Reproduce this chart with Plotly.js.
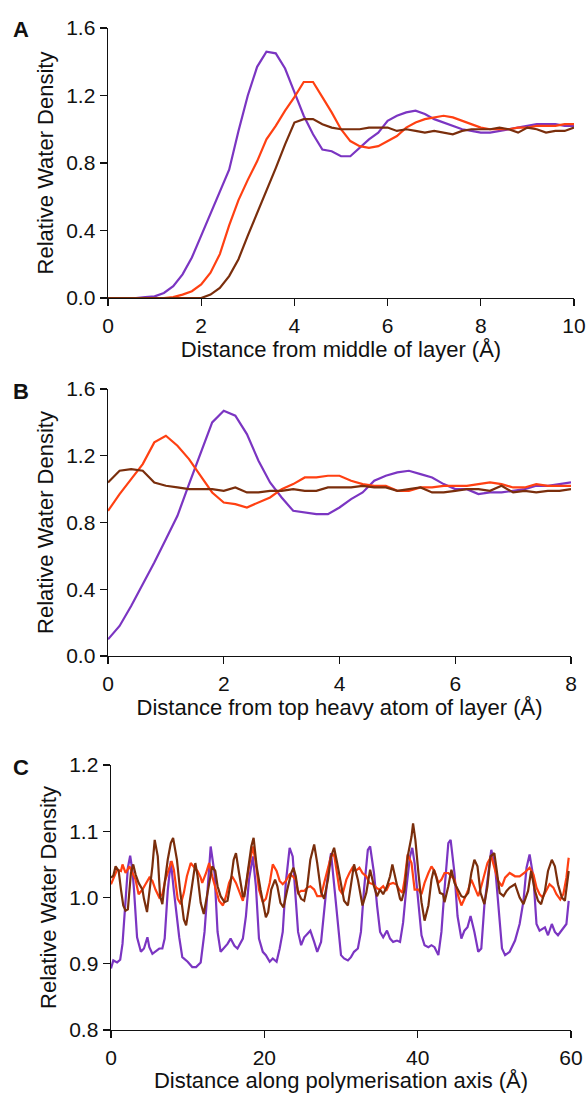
<!DOCTYPE html>
<html>
<head>
<meta charset="utf-8">
<script src="https://cdn.plot.ly/plotly-3.0.1.min.js"></script>
<style>html,body{margin:0;padding:0;background:#fff;}</style>
</head>
<body>
<div id="chart" style="width:588px;height:1093px;"></div>
<script>
// ---------- Panel A: distance from middle of layer ----------
const xA = [0,0.2,0.4,0.6,0.8,1.0,1.2,1.4,1.6,1.8,2.0,2.2,2.4,2.6,2.8,3.0,3.2,3.4,3.6,3.8,4.0,4.2,4.4,4.6,4.8,5.0,5.2,5.4,5.6,5.8,6.0,6.2,6.4,6.6,6.8,7.0,7.2,7.4,7.6,7.8,8.0,8.2,8.4,8.6,8.8,9.0,9.2,9.4,9.6,9.8,10.0];
const purpleA = [0,0,0,0,0.005,0.01,0.03,0.07,0.14,0.24,0.37,0.50,0.64,0.76,0.99,1.20,1.37,1.46,1.45,1.36,1.22,1.08,0.97,0.88,0.87,0.84,0.84,0.89,0.94,0.98,1.05,1.08,1.10,1.11,1.09,1.06,1.04,1.02,1.00,0.99,0.98,0.98,0.99,1.00,1.01,1.02,1.03,1.03,1.03,1.02,1.02];
const orangeA = [0,0,0,0,0,0,0,0.005,0.02,0.04,0.08,0.15,0.26,0.43,0.58,0.70,0.81,0.94,1.02,1.11,1.19,1.28,1.28,1.19,1.10,1.00,0.93,0.90,0.89,0.90,0.93,0.96,1.01,1.04,1.06,1.07,1.08,1.07,1.05,1.03,1.01,1.00,1.00,1.00,1.01,1.01,1.02,1.02,1.02,1.03,1.03];
const brownA = [0,0,0,0,0,0,0,0,0,0,0,0.02,0.06,0.13,0.23,0.37,0.50,0.64,0.77,0.91,1.04,1.06,1.06,1.03,1.01,1.00,1.00,1.00,1.01,1.01,1.01,0.99,1.00,0.99,0.98,0.99,0.98,0.97,0.99,1.00,1.00,1.00,1.01,1.00,0.98,1.01,1.00,0.98,0.99,0.99,1.01];

// ---------- Panel B: distance from top heavy atom of layer ----------
const xB = [0,0.2,0.4,0.6,0.8,1.0,1.2,1.4,1.6,1.8,2.0,2.2,2.4,2.6,2.8,3.0,3.2,3.4,3.6,3.8,4.0,4.2,4.4,4.6,4.8,5.0,5.2,5.4,5.6,5.8,6.0,6.2,6.4,6.6,6.8,7.0,7.2,7.4,7.6,7.8,8.0];
const purpleB = [0.10,0.18,0.30,0.43,0.56,0.70,0.84,1.03,1.22,1.40,1.47,1.44,1.33,1.17,1.04,0.95,0.87,0.86,0.85,0.85,0.89,0.94,0.98,1.05,1.08,1.10,1.11,1.09,1.07,1.03,1.00,1.00,0.97,0.98,0.98,0.99,1.00,1.02,1.02,1.03,1.04];
const orangeB = [0.87,0.97,1.06,1.15,1.28,1.32,1.26,1.18,1.08,0.98,0.92,0.91,0.89,0.92,0.95,1.00,1.03,1.07,1.07,1.08,1.08,1.05,1.03,1.02,1.02,0.99,0.99,1.01,1.01,1.02,1.02,1.02,1.03,1.04,1.03,1.01,1.01,1.03,1.02,1.02,1.02];
const brownB = [1.04,1.11,1.12,1.11,1.04,1.02,1.01,1.00,1.00,1.00,0.99,1.01,0.98,0.98,0.99,0.99,1.00,0.99,0.99,1.01,1.01,1.01,1.02,1.01,1.01,0.99,1.00,1.01,0.98,0.98,0.99,1.00,1.00,0.99,1.02,0.98,0.99,0.98,0.99,0.99,1.00];

// ---------- Panel C: distance along polymerisation axis ----------
const xPurpleC = [0,0.3,0.8,1.2,1.5,1.9,2.2,2.5,2.8,3.0,3.2,3.4,3.9,4.3,4.75,5.0,5.4,5.8,6.3,6.7,7.0,7.4,7.8,8.2,8.6,8.9,9.3,10.0,10.6,11.1,11.7,12.2,12.6,13.0,13.5,13.9,14.3,14.8,15.2,15.6,16.1,16.5,17.2,17.6,18.0,18.5,18.9,19.3,19.8,20.2,20.7,21.1,21.6,22.0,22.4,22.8,23.3,23.7,24.1,24.4,24.8,25.2,25.6,26.0,26.5,26.9,27.4,27.8,28.3,28.7,29.1,29.6,30.0,30.4,30.9,31.3,31.7,32.2,32.6,33.0,33.5,33.8,34.3,34.7,35.1,35.5,36.0,36.4,36.8,37.3,37.7,38.1,38.5,39.0,39.3,39.6,40.1,40.5,40.9,41.4,41.8,42.2,42.7,43.1,43.5,44.0,44.3,44.8,45.2,45.7,46.1,46.5,46.9,47.4,47.9,48.3,48.7,49.2,49.6,50.1,50.5,51.0,51.4,52.0,52.7,53.3,53.8,54.2,54.6,55.1,55.5,55.9,56.6,57.0,57.5,57.9,58.3,59.0,59.4,59.7];
const purpleC = [0.893,0.905,0.902,0.906,0.93,1.0,1.045,1.063,1.04,1.012,0.97,0.94,0.918,0.923,0.94,0.925,0.915,0.918,0.923,0.923,0.938,1.01,1.055,1.01,0.965,0.94,0.91,0.903,0.895,0.895,0.902,0.948,1.012,1.077,1.037,0.948,0.918,0.925,0.93,0.938,0.927,0.923,0.938,0.972,1.027,1.062,1.017,0.938,0.918,0.913,0.903,0.908,0.903,0.923,0.948,1.022,1.075,1.062,0.988,0.948,0.928,0.94,0.945,0.95,0.933,0.918,0.933,0.978,1.037,1.067,1.017,0.953,0.913,0.908,0.905,0.91,0.918,0.923,0.948,1.012,1.072,1.077,1.037,0.988,0.948,0.94,0.95,0.938,0.933,0.935,0.933,0.962,1.012,1.062,1.075,1.052,0.988,0.943,0.928,0.925,0.928,0.925,0.913,0.948,1.012,1.082,1.087,1.037,0.972,0.938,0.95,0.955,0.972,0.948,0.918,0.923,0.988,1.037,1.072,1.047,0.988,0.923,0.913,0.918,0.935,0.96,0.995,1.045,1.065,1.03,0.96,0.95,0.955,0.943,0.96,0.948,0.943,0.955,0.96,0.995];

const xOrangeC = [0,0.4,0.8,1.3,1.5,1.9,2.4,2.8,3.2,3.6,4.1,4.5,5.0,5.4,5.8,6.3,6.7,7.1,7.6,7.9,8.2,8.7,9.1,9.5,9.9,10.4,10.9,11.3,11.7,11.9,12.4,12.8,13.2,13.7,14.1,14.6,15.0,15.4,15.8,16.3,16.7,17.2,17.6,18.0,18.5,18.9,19.3,19.8,20.2,20.7,21.1,21.6,22.0,22.4,22.8,23.3,23.7,24.1,24.4,24.8,25.2,25.6,26.0,26.5,26.9,27.4,27.8,28.3,28.7,29.1,29.5,29.8,30.2,30.7,31.1,31.5,31.9,32.4,32.8,33.3,33.7,34.2,34.6,35.0,35.5,35.9,36.3,36.8,37.2,37.6,38.0,38.3,38.7,39.2,39.6,40.1,40.5,40.9,41.4,41.8,42.2,42.7,43.1,43.5,44.0,44.4,44.8,45.3,45.7,46.1,46.6,47.0,47.4,47.9,48.3,48.7,49.1,49.6,50.1,50.5,51.0,51.4,52.0,52.7,53.3,53.9,54.6,55.1,55.5,55.9,56.3,56.8,57.2,57.7,58.1,58.6,59.0,59.4,59.7];
const orangeC = [1.02,1.03,1.042,1.04,1.05,1.037,1.047,1.037,1.027,1.005,1.012,1.02,1.03,1.025,1.012,1.0,1.005,1.027,1.047,1.055,1.042,0.998,0.99,1.007,1.032,1.052,1.045,1.04,1.03,1.022,1.037,1.052,1.032,1.012,0.995,0.988,1.002,1.022,1.032,1.022,1.01,0.995,1.017,1.047,1.077,1.052,1.012,0.993,0.998,1.022,1.05,1.04,1.025,1.02,1.025,1.035,1.032,1.027,1.007,1.01,1.01,1.015,1.017,1.012,1.002,1.002,1.022,1.047,1.062,1.065,1.037,1.012,1.005,1.027,1.037,1.045,1.04,1.045,1.037,1.032,1.022,1.02,1.015,1.012,1.017,1.01,1.02,1.022,1.02,1.012,1.007,1.027,1.065,1.052,1.012,1.012,1.005,1.022,1.037,1.047,1.04,1.022,1.027,1.037,1.037,1.032,1.027,1.002,0.988,0.998,1.012,1.027,1.017,1.002,1.017,1.037,1.052,1.062,1.042,1.025,1.017,1.03,1.037,1.032,1.032,1.037,1.045,1.035,1.015,1.005,1.0,1.01,1.02,1.015,1.005,0.997,1.005,1.03,1.06];

const xBrownC = [0,0.3,0.6,1.0,1.3,1.6,1.9,2.2,2.6,2.9,3.2,3.6,4.1,4.3,4.7,5.0,5.4,5.7,6.1,6.4,6.7,7.0,7.4,7.8,8.1,8.6,9.0,9.5,9.8,10.2,10.6,11.0,11.3,11.7,12.1,12.6,13.2,13.6,13.9,14.3,14.8,15.2,15.6,16.0,16.3,16.7,17.2,17.4,17.8,18.3,18.6,19.0,19.5,19.9,20.2,20.5,20.9,21.4,21.7,22.1,22.5,23.0,23.5,23.8,24.1,24.4,24.8,25.2,25.6,26.0,26.5,26.9,27.4,27.8,28.3,28.7,29.1,29.5,30.0,30.4,30.9,31.3,31.7,32.2,32.6,32.8,33.3,33.8,34.3,34.7,35.1,35.5,36.0,36.4,36.7,37.2,37.7,37.9,38.3,38.7,39.2,39.4,39.7,40.1,40.5,40.9,41.4,41.8,42.1,42.4,42.9,43.3,43.5,44.0,44.4,44.8,45.3,45.7,46.1,46.6,47.0,47.4,47.8,48.2,48.7,49.1,49.5,50.0,50.3,50.7,51.2,51.6,52.0,52.7,53.3,53.8,54.4,54.8,55.3,55.7,56.1,56.6,57.0,57.5,57.9,58.3,58.8,59.2,59.7];
const brownC = [1.03,1.033,1.047,1.04,1.012,0.988,0.98,0.982,1.037,1.05,1.035,1.022,1.012,0.998,0.978,1.007,1.047,1.087,1.062,1.002,0.99,1.022,1.057,1.082,1.09,1.057,1.012,0.967,0.958,0.988,1.022,1.052,1.032,0.992,0.975,1.007,1.047,1.04,1.017,1.002,0.993,0.995,1.022,1.057,1.067,1.037,1.002,1.002,1.037,1.077,1.09,1.047,1.012,0.988,0.97,0.978,1.012,1.027,1.017,0.992,0.985,1.012,1.037,1.045,1.032,1.008,0.998,0.995,1.017,1.057,1.08,1.052,1.008,0.998,1.027,1.062,1.075,1.052,1.017,0.995,0.988,1.017,1.05,1.027,0.998,0.988,1.007,1.042,1.017,1.002,1.012,1.005,1.017,1.032,1.05,1.022,0.998,0.995,1.012,1.062,1.092,1.112,1.087,1.037,0.993,0.965,0.988,1.027,1.042,1.032,1.007,1.005,0.993,1.017,1.042,1.022,1.012,1.002,1.0,1.007,1.037,1.057,1.047,1.007,0.99,1.017,1.062,1.067,1.042,1.007,1.002,1.01,1.015,1.02,1.0,0.99,1.01,1.04,1.01,0.995,0.99,1.01,1.04,1.057,1.047,1.02,1.0,0.995,1.04];

// Axis tick values and titles
const ticksA_x = [0,2,4,6,8,10];
const ticksA_y = [0,0.4,0.8,1.2,1.6];
const ticksB_x = [0,2,4,6,8];
const ticksB_y = [0,0.4,0.8,1.2,1.6];
const ticksC_x = [0,20,40,60];
const ticksC_y = [0.8,0.9,1.0,1.1,1.2];
const yTitle = 'Relative Water Density';
const xTitleA = 'Distance from middle of layer (Å)';
const xTitleB = 'Distance from top heavy atom of layer (Å)';
const xTitleC = 'Distance along polymerisation axis (Å)';

const PURPLE = '#7B35C2', ORANGE = '#FF4012', BROWN = '#7A2E0C';
const W = 588, H = 1093;
const fx = p => p / W;
const fy = p => 1 - p / H;

function line(x, y, color, xa, ya) {
  return {x: x, y: y, type: 'scatter', mode: 'lines', xaxis: xa, yaxis: ya,
          line: {color: color, width: 2.2}, hoverinfo: 'skip'};
}

const data = [
  line(xA, purpleA, PURPLE, 'x', 'y'),
  line(xA, orangeA, ORANGE, 'x', 'y'),
  line(xA, brownA, BROWN, 'x', 'y'),
  line(xB, purpleB, PURPLE, 'x2', 'y2'),
  line(xB, orangeB, ORANGE, 'x2', 'y2'),
  line(xB, brownB, BROWN, 'x2', 'y2'),
  line(xPurpleC, purpleC, PURPLE, 'x3', 'y3'),
  line(xOrangeC, orangeC, ORANGE, 'x3', 'y3'),
  line(xBrownC, brownC, BROWN, 'x3', 'y3')
];

const common = {
  showline: true, linecolor: '#111', linewidth: 1.4,
  ticks: 'outside', ticklen: 7, tickwidth: 1.4, tickcolor: '#111',
  showgrid: false, zeroline: false, automargin: false,
  tickfont: {size: 21, color: '#111'}, fixedrange: true
};
function xax(dom, range, tv, title, anchor) {
  return Object.assign({}, common, {
    domain: dom, range: range, tickmode: 'array', tickvals: tv, anchor: anchor,
    ticklabelstandoff: 1,
    title: {text: title, font: {size: 22, color: '#111'}, standoff: 0}
  });
}
function yax(dom, range, tv, anchor) {
  return Object.assign({}, common, {
    domain: dom, range: range, tickmode: 'array', tickvals: tv, anchor: anchor,
    tickformat: '.1f', ticklabelstandoff: 0,
    title: {text: yTitle, font: {size: 22, color: '#111'}, standoff: 6}
  });
}

function label(t, px, py) {
  return {text: '<b>' + t + '</b>', x: fx(px), y: fy(py), xref: 'paper', yref: 'paper',
          xanchor: 'center', yanchor: 'middle', showarrow: false,
          font: {size: 22, color: '#111'}};
}

const layout = {
  width: W, height: H,
  margin: {l: 0, r: 0, t: 0, b: 0},
  paper_bgcolor: '#fff', plot_bgcolor: '#fff',
  showlegend: false,
  font: {family: 'Liberation Sans, Arial, sans-serif', color: '#111'},
  xaxis: xax([fx(108), fx(574)], [0, 10], ticksA_x, xTitleA, 'y'),
  yaxis: yax([fy(298), fy(28)], [0, 1.6], ticksA_y, 'x'),
  xaxis2: xax([fx(108), fx(571)], [0, 8], ticksB_x, xTitleB, 'y2'),
  yaxis2: yax([fy(656), fy(389)], [0, 1.6], ticksB_y, 'x2'),
  xaxis3: xax([fx(111), fx(571)], [0, 60], ticksC_x, xTitleC, 'y3'),
  yaxis3: yax([fy(1030), fy(765)], [0.8, 1.2], ticksC_y, 'x3'),
  annotations: [label('A', 21, 30), label('B', 21, 391), label('C', 21, 767)]
};

Plotly.newPlot('chart', data, layout, {displayModeBar: false, staticPlot: true});
</script>
</body>
</html>
